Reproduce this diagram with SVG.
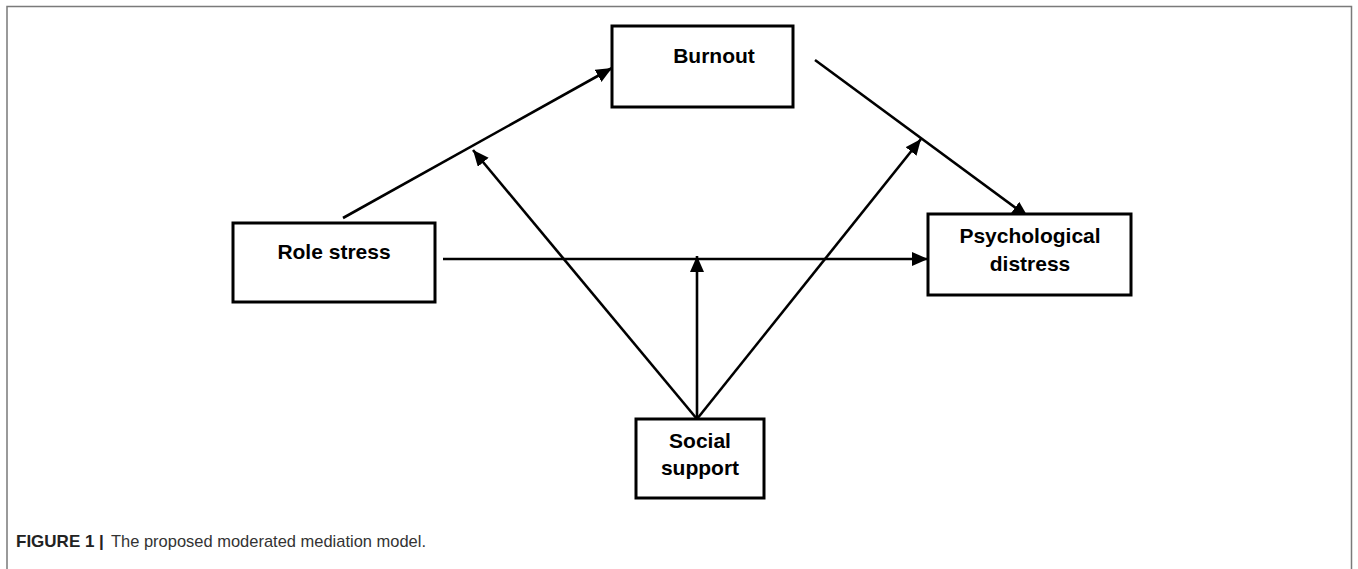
<svg xmlns="http://www.w3.org/2000/svg" width="1358" height="569" viewBox="0 0 1358 569">
  <style>
    .box { fill: #ffffff; stroke: #000000; stroke-width: 3; }
    .lbl { font-family: "Liberation Sans", Arial, sans-serif; font-weight: bold; font-size: 21px; fill: #000; text-anchor: middle; }
    .conn { stroke: #000; stroke-width: 2.6; fill: none; marker-end: url(#arr); }
    .frame { stroke: #7a7a7a; stroke-width: 1.5; fill: none; }
    .cap { font-family: "Liberation Sans", Arial, sans-serif; font-size: 17px; fill: #333; }
    .capb { font-family: "Liberation Sans", Arial, sans-serif; font-size: 17px; font-weight: bold; fill: #222; }
  </style>
  <defs>
    <marker id="arr" markerUnits="userSpaceOnUse" markerWidth="18" markerHeight="16" refX="16" refY="7" orient="auto">
      <path d="M0,0 L16,7 L0,14 Z" fill="#000"/>
    </marker>
  </defs>
  <rect width="1358" height="569" fill="#ffffff"/>
  <path class="frame" d="M7,569 L7,6.5 L1351.5,6.5 L1351.5,569"/>

  <g id="connectors">
    <path class="conn" d="M343,218 L612,68"/>
    <path class="conn" d="M815,60 L1028,217"/>
    <path class="conn" d="M443,259 L928,259"/>
    <path class="conn" d="M697,419 L697,256"/>
    <path class="conn" d="M697,419 L473,150"/>
    <path class="conn" d="M697,419 L921,139"/>
  </g>

  <g id="burnout">
    <rect class="box" x="612" y="26" width="181" height="81"/>
    <text class="lbl" x="714" y="63">Burnout</text>
  </g>
  <g id="role-stress">
    <rect class="box" x="233" y="223" width="202" height="79"/>
    <text class="lbl" x="334" y="259">Role stress</text>
  </g>
  <g id="psychological-distress">
    <rect class="box" x="928" y="214" width="203" height="81"/>
    <text class="lbl" x="1030" y="243">Psychological</text>
    <text class="lbl" x="1030" y="271">distress</text>
  </g>
  <g id="social-support">
    <rect class="box" x="636" y="419" width="128" height="79"/>
    <text class="lbl" x="700" y="448">Social</text>
    <text class="lbl" x="700" y="475">support</text>
  </g>

  <text class="capb" x="16" y="547">FIGURE 1 |</text>
  <text class="cap" x="111" y="547" textLength="315" lengthAdjust="spacingAndGlyphs">The proposed moderated mediation model.</text>
</svg>
